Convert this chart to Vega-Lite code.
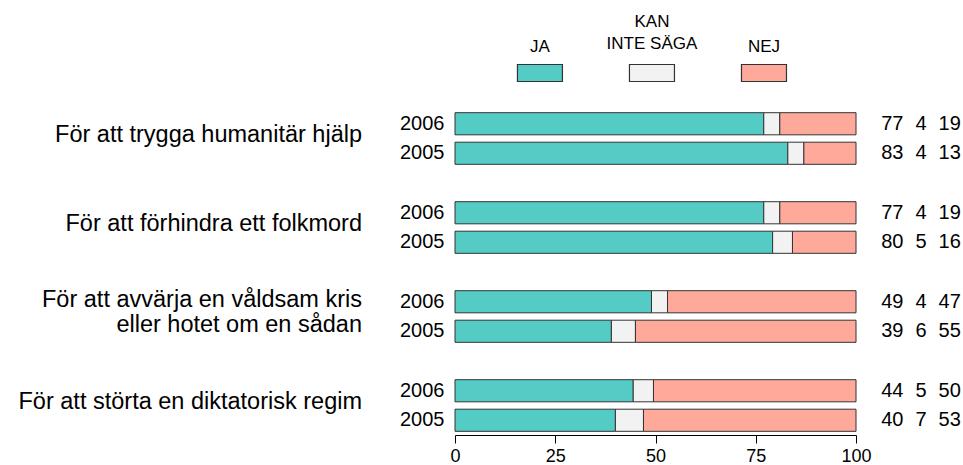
{
  "$schema": "https://vega.github.io/schema/vega-lite/v6.json",
  "background": "white",
  "padding": {"left": 5, "top": 12, "right": 5, "bottom": 0},
  "config": {
    "font": "Liberation Sans",
    "view": {"stroke": null},
    "axis": {"labelColor": "black", "domainColor": "black", "tickColor": "black"}
  },
  "datasets": {
    "responses": [
      {"group": "För att trygga humanitär hjälp", "year": "2006", "response": "JA", "value": 77},
      {"group": "För att trygga humanitär hjälp", "year": "2006", "response": "KAN INTE SÄGA", "value": 4},
      {"group": "För att trygga humanitär hjälp", "year": "2006", "response": "NEJ", "value": 19},
      {"group": "För att trygga humanitär hjälp", "year": "2005", "response": "JA", "value": 83},
      {"group": "För att trygga humanitär hjälp", "year": "2005", "response": "KAN INTE SÄGA", "value": 4},
      {"group": "För att trygga humanitär hjälp", "year": "2005", "response": "NEJ", "value": 13},
      {"group": "För att förhindra ett folkmord", "year": "2006", "response": "JA", "value": 77},
      {"group": "För att förhindra ett folkmord", "year": "2006", "response": "KAN INTE SÄGA", "value": 4},
      {"group": "För att förhindra ett folkmord", "year": "2006", "response": "NEJ", "value": 19},
      {"group": "För att förhindra ett folkmord", "year": "2005", "response": "JA", "value": 80},
      {"group": "För att förhindra ett folkmord", "year": "2005", "response": "KAN INTE SÄGA", "value": 5},
      {"group": "För att förhindra ett folkmord", "year": "2005", "response": "NEJ", "value": 16},
      {"group": "För att avvärja en våldsam kris eller hotet om en sådan", "year": "2006", "response": "JA", "value": 49},
      {"group": "För att avvärja en våldsam kris eller hotet om en sådan", "year": "2006", "response": "KAN INTE SÄGA", "value": 4},
      {"group": "För att avvärja en våldsam kris eller hotet om en sådan", "year": "2006", "response": "NEJ", "value": 47},
      {"group": "För att avvärja en våldsam kris eller hotet om en sådan", "year": "2005", "response": "JA", "value": 39},
      {"group": "För att avvärja en våldsam kris eller hotet om en sådan", "year": "2005", "response": "KAN INTE SÄGA", "value": 6},
      {"group": "För att avvärja en våldsam kris eller hotet om en sådan", "year": "2005", "response": "NEJ", "value": 55},
      {"group": "För att störta en diktatorisk regim", "year": "2006", "response": "JA", "value": 44},
      {"group": "För att störta en diktatorisk regim", "year": "2006", "response": "KAN INTE SÄGA", "value": 5},
      {"group": "För att störta en diktatorisk regim", "year": "2006", "response": "NEJ", "value": 50},
      {"group": "För att störta en diktatorisk regim", "year": "2005", "response": "JA", "value": 40},
      {"group": "För att störta en diktatorisk regim", "year": "2005", "response": "KAN INTE SÄGA", "value": 7},
      {"group": "För att störta en diktatorisk regim", "year": "2005", "response": "NEJ", "value": 53}
    ],
    "grouplines": [
      {"group": "För att trygga humanitär hjälp", "line": 1, "text": "För att trygga humanitär hjälp"},
      {"group": "För att förhindra ett folkmord", "line": 1, "text": "För att förhindra ett folkmord"},
      {"group": "För att avvärja en våldsam kris eller hotet om en sådan", "line": 1, "text": "För att avvärja en våldsam kris"},
      {"group": "För att avvärja en våldsam kris eller hotet om en sådan", "line": 2, "text": "eller hotet om en sådan"},
      {"group": "För att störta en diktatorisk regim", "line": 1, "text": "För att störta en diktatorisk regim"}
    ],
    "legend": [
      {"response": "JA"},
      {"response": "KAN INTE SÄGA"},
      {"response": "NEJ"}
    ],
    "empty": []
  },
  "columns": 3,
  "align": "each",
  "spacing": {"row": 19, "column": 6},
  "concat": [
    {
      "data": {"name": "empty"},
      "width": 1,
      "height": 34,
      "mark": {"type": "point", "opacity": 0}
    },
    {
      "data": {"name": "legend"},
      "width": 401,
      "height": 34,
      "layer": [
        {
          "mark": {"type": "point", "shape": "M-1,-0.378H1V0.378H-1Z", "filled": true, "size": 2025, "stroke": "#333333", "strokeWidth": 1.2, "opacity": 1},
          "encoding": {
            "x": {"field": "response", "type": "nominal", "scale": {"type": "point", "padding": 0.79, "align": 0.48, "domain": ["JA", "KAN INTE SÄGA", "NEJ"]}, "axis": null},
            "color": {"field": "response", "type": "nominal", "scale": {"domain": ["JA", "KAN INTE SÄGA", "NEJ"], "range": ["#55CBC5", "#F2F2F2", "#FFA99A"]}, "legend": null}
          }
        },
        {
          "transform": [{"filter": "datum.response != 'KAN INTE SÄGA'"}],
          "mark": {"type": "text", "baseline": "alphabetic", "dy": -21.5, "fontSize": 17, "color": "black"},
          "encoding": {
            "x": {"field": "response", "type": "nominal", "scale": {"type": "point", "padding": 0.79, "align": 0.48, "domain": ["JA", "KAN INTE SÄGA", "NEJ"]}, "axis": null},
            "text": {"field": "response"}
          }
        },
        {
          "transform": [{"filter": "datum.response == 'KAN INTE SÄGA'"}, {"calculate": "'INTE SÄGA'", "as": "line2"}, {"calculate": "'KAN'", "as": "line1"}],
          "layer": [
            {
              "mark": {"type": "text", "baseline": "alphabetic", "dy": -24.5, "fontSize": 17, "color": "black"},
              "encoding": {
                "x": {"field": "response", "type": "nominal", "scale": {"type": "point", "padding": 0.79, "align": 0.48, "domain": ["JA", "KAN INTE SÄGA", "NEJ"]}, "axis": null},
                "text": {"field": "line2"}
              }
            },
            {
              "mark": {"type": "text", "baseline": "alphabetic", "dy": -46.5, "fontSize": 17, "color": "black"},
              "encoding": {
                "x": {"field": "response", "type": "nominal", "scale": {"type": "point", "padding": 0.79, "align": 0.48, "domain": ["JA", "KAN INTE SÄGA", "NEJ"]}, "axis": null},
                "text": {"field": "line1"}
              }
            }
          ]
        }
      ]
    },
    {
      "data": {"name": "empty"},
      "width": 1,
      "height": 34,
      "mark": {"type": "point", "opacity": 0}
    },
    {
      "data": {"name": "grouplines"},
      "facet": {
        "row": {
          "field": "group", "type": "nominal",
          "sort": ["För att trygga humanitär hjälp", "För att förhindra ett folkmord", "För att avvärja en våldsam kris eller hotet om en sådan", "För att störta en diktatorisk regim"],
          "header": {"title": null, "labels": false}
        }
      },
      "spacing": 30,
      "resolve": {"scale": {"y": "independent"}},
      "spec": {
        "width": 388,
        "height": 59,
        "mark": {"type": "text", "align": "right", "baseline": "middle", "fontSize": 23.5, "dx": -31, "dy": -4, "color": "black"},
        "encoding": {
          "x": {"datum": 1, "type": "quantitative", "scale": {"domain": [0, 1]}, "axis": null},
          "y": {"field": "line", "type": "ordinal", "scale": {"type": "point", "padding": 0.729}, "axis": null},
          "text": {"field": "text"}
        }
      }
    },
    {
      "data": {"name": "responses"},
      "facet": {
        "row": {
          "field": "group", "type": "nominal",
          "sort": ["För att trygga humanitär hjälp", "För att förhindra ett folkmord", "För att avvärja en våldsam kris eller hotet om en sådan", "För att störta en diktatorisk regim"],
          "header": {"title": null, "labels": false}
        }
      },
      "spacing": 30,
      "spec": {
        "width": 401,
        "height": 59,
        "mark": {"type": "bar", "stroke": "#333333", "strokeWidth": 1},
        "encoding": {
          "y": {"field": "year", "type": "nominal", "sort": "descending", "scale": {"paddingInner": 0.25, "paddingOuter": 0.125}, "axis": {"title": null, "ticks": false, "domain": false, "labelFontSize": 20, "labelPadding": 10}},
          "x": {"field": "value", "type": "quantitative", "stack": "normalize", "axis": {"title": null, "grid": false, "values": [0, 0.25, 0.5, 0.75, 1], "labelExpr": "format(datum.value * 100, 'd')", "labelFontSize": 18, "tickSize": 8, "labelPadding": 4, "labelFlush": false}},
          "color": {"field": "response", "type": "nominal", "scale": {"domain": ["JA", "KAN INTE SÄGA", "NEJ"], "range": ["#55CBC5", "#F2F2F2", "#FFA99A"]}, "legend": null}
        }
      }
    },
    {
      "data": {"name": "responses"},
      "facet": {
        "row": {
          "field": "group", "type": "nominal",
          "sort": ["För att trygga humanitär hjälp", "För att förhindra ett folkmord", "För att avvärja en våldsam kris eller hotet om en sådan", "För att störta en diktatorisk regim"],
          "header": {"title": null, "labels": false}
        }
      },
      "spacing": 30,
      "spec": {
        "width": 86,
        "height": 59,
        "mark": {"type": "text", "fontSize": 20, "color": "black"},
        "encoding": {
          "y": {"field": "year", "type": "nominal", "sort": "descending", "scale": {"paddingInner": 0.25, "paddingOuter": 0.125}, "axis": null},
          "x": {"field": "response", "type": "nominal", "scale": {"type": "point", "padding": 0.5, "domain": ["JA", "KAN INTE SÄGA", "NEJ"]}, "axis": null},
          "text": {"field": "value", "type": "quantitative"}
        }
      }
    }
  ]
}
